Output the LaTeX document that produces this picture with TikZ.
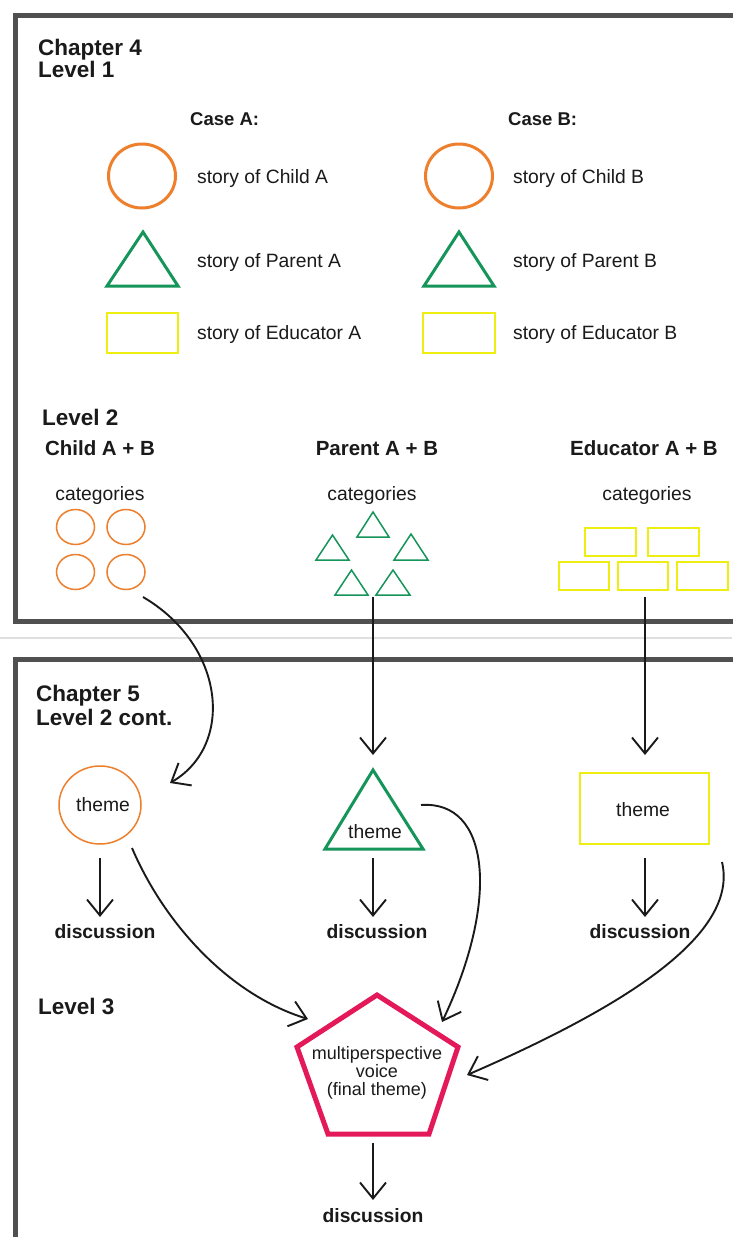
\documentclass[tikz,border=0pt]{standalone}
\usepackage{fontspec}
\setmainfont{Liberation Sans}
\usetikzlibrary{arrows.meta,shapes.geometric}
\definecolor{framec}{HTML}{505050}
\definecolor{orng}{HTML}{EE7F2D}
\definecolor{grn}{HTML}{16955A}
\definecolor{ylw}{HTML}{EEEE10}
\definecolor{pnk}{HTML}{E3195A}
\definecolor{ink}{HTML}{1A1A1A}
\begin{document}
\begin{tikzpicture}[x=1pt,y=-1pt,
  hd/.style={font=\fontsize{22.5}{26}\selectfont\bfseries, text=ink, inner sep=0pt, anchor=base west},
  sub/.style={font=\fontsize{20.5}{24}\selectfont\bfseries, text=ink, inner sep=0pt, anchor=base},
  cse/.style={font=\fontsize{18.5}{22}\selectfont\bfseries, text=ink, inner sep=0pt, anchor=base west},
  tx/.style={font=\fontsize{19.3}{22}\selectfont, text=ink, inner sep=0pt, anchor=base west},
  lbl/.style={font=\fontsize{19.3}{22}\selectfont, text=ink, inner sep=0pt, anchor=base},
  disc/.style={font=\fontsize{19.3}{22}\selectfont\bfseries, text=ink, inner sep=0pt, anchor=base},
  conn/.style={line width=1.9pt, draw=ink, -{Straight Barb[length=16pt,width=26pt]}},
  bigcirc/.style={ellipse, draw=orng, line width=3pt, minimum width=67pt, minimum height=64pt, inner sep=0pt},
  smallcirc/.style={ellipse, draw=orng, line width=1.5pt, minimum width=38pt, minimum height=35pt, inner sep=0pt},
  bigtri/.style={draw=grn, line width=3pt, line join=miter},
  smalltri/.style={draw=grn, line width=1.5pt},
  bigrect/.style={draw=ylw, line width=2.5pt},
  smallrect/.style={draw=ylw, line width=1.5pt},
  framel/.style={draw=framec, line width=5pt}
]
\useasboundingbox (0,0) rectangle (732,1237);
\fill[white] (0,0) rectangle (732,1237);

% frames
\draw[framel] (745,15) -- (15,15) -- (15,621) -- (745,621);
\draw[gray!25, line width=1.5pt] (0,638) -- (732,638);
\draw[framel] (745,659) -- (15,659) -- (15,1250);

% Chapter 4 / Level 1
\node[hd] (ch4) at (38,55) {Chapter 4};
\node[hd] (lv1) at (38,77) {Level 1};
\node[cse] (caseA) at (190,125) {Case A:};
\node[cse] (caseB) at (508,125) {Case B:};

\node[bigcirc] (cA) at (142,176) {};
\node[bigcirc] (cB) at (459,176) {};
\draw[bigtri] (107,286) -- (178,286) -- (143,232) -- cycle;
\draw[bigtri] (424,286) -- (494,286) -- (459,232) -- cycle;
\draw[bigrect] (107,313) rectangle (178,353);
\draw[bigrect] (423,313) rectangle (495,353);

\node[tx] (sCA) at (197,183) {story of Child A};
\node[tx] (sPA) at (197,267) {story of Parent A};
\node[tx] (sEA) at (197,339) {story of Educator A};
\node[tx] (sCB) at (513,183) {story of Child B};
\node[tx] (sPB) at (513,267) {story of Parent B};
\node[tx] (sEB) at (513,339) {story of Educator B};

% Level 2
\node[hd] (lv2) at (42,425) {Level 2};
\node[sub] (chAB) at (100,455) {Child A + B};
\node[sub] (paAB) at (377,455) {Parent A + B};
\node[sub] (edAB) at (644,455) {Educator A + B};
\node[lbl] (cat1) at (100,500) {categories};
\node[lbl] (cat2) at (372,500) {categories};
\node[lbl] (cat3) at (647,500) {categories};

\node[smallcirc] (k1) at (75.5,527) {};
\node[smallcirc] (k2) at (126,527) {};
\node[smallcirc] (k3) at (75.5,572) {};
\node[smallcirc] (k4) at (126,572) {};

\draw[smalltri] (357,537) -- (389,537) -- (373,512) -- cycle;
\draw[smalltri] (316,560) -- (349,560) -- (332.5,535) -- cycle;
\draw[smalltri] (394,560) -- (428,560) -- (411,534) -- cycle;
\draw[smalltri] (335,595) -- (368,595) -- (351.5,570) -- cycle;
\draw[smalltri] (376,595) -- (410,595) -- (393,570) -- cycle;

\draw[smallrect] (585,528) rectangle (636,556);
\draw[smallrect] (648,528) rectangle (699,556);
\draw[smallrect] (559,562) rectangle (609,590);
\draw[smallrect] (618,562) rectangle (668,590);
\draw[smallrect] (677,562) rectangle (728,590);

\coordinate (chS) at (143,597);
\coordinate (paS) at (373,597);
\coordinate (edS) at (645,597);

% Chapter 5
\node[hd] (ch5) at (36,701) {Chapter 5};
\node[hd] (lv2c) at (36,725) {Level 2 cont.};

% themes
\node[ellipse, draw=orng, line width=1.5pt, minimum width=82pt, minimum height=78pt, inner sep=0pt] (thC) at (100,805) {};
\node[lbl] (thCt) at (103,811) {theme};
\draw[bigtri] (325,849) -- (423,849) -- (373,770) -- cycle;
\node[lbl] (thPt) at (375,838) {theme};
\draw[draw=ylw, line width=2pt] (580,773) rectangle (709,844);
\node[lbl] (thEt) at (643,816) {theme};

\coordinate (chT) at (170,783);
\coordinate (paT) at (373,755);
\coordinate (edT) at (645,755);

% arrows into themes
\draw[conn] (chS) .. controls (225,645) and (235,745) .. (chT);
\draw[conn] (paS) -- (paT);
\draw[conn] (edS) -- (edT);

% discussions level 2
\node[disc] (d1) at (105,938) {discussion};
\node[disc] (d2) at (377,938) {discussion};
\node[disc] (d3) at (640,938) {discussion};
\coordinate (t1) at (100,858);
\coordinate (t2) at (373,858);
\coordinate (t3) at (645,858);
\coordinate (e1) at (100,917);
\coordinate (e2) at (373,917);
\coordinate (e3) at (645,917);
\draw[conn] (t1) -- (e1);
\draw[conn] (t2) -- (e2);
\draw[conn] (t3) -- (e3);

% Level 3
\node[hd] (lv3) at (38,1014) {Level 3};
\draw[draw=pnk, line width=5pt, line join=miter] (377,995) -- (458,1047) -- (429,1134) -- (328,1134) -- (297,1047) -- cycle;
\node[font=\fontsize{18}{17.8}\selectfont, text=ink, align=center, inner sep=0pt, anchor=center] (pent) at (377,1073) {multiperspective\\voice\\(final theme)};

\coordinate (cS) at (132,848);
\coordinate (pS) at (421,805);
\coordinate (eS) at (722,862);
\coordinate (cT) at (308,1019);
\coordinate (pT) at (442,1022);
\coordinate (eT) at (467,1075);
\draw[conn] (cS) .. controls (165,925) and (230,995) .. (cT);
\draw[conn] (pS) .. controls (490,800) and (500,900) .. (pT);
\draw[conn] (eS) .. controls (738,930) and (640,1000) .. (eT);

\coordinate (fS) at (373,1143);
\coordinate (fT) at (373,1200);
\draw[conn] (fS) -- (fT);
\node[disc] (d4) at (373,1222) {discussion};
\end{tikzpicture}
\end{document}
